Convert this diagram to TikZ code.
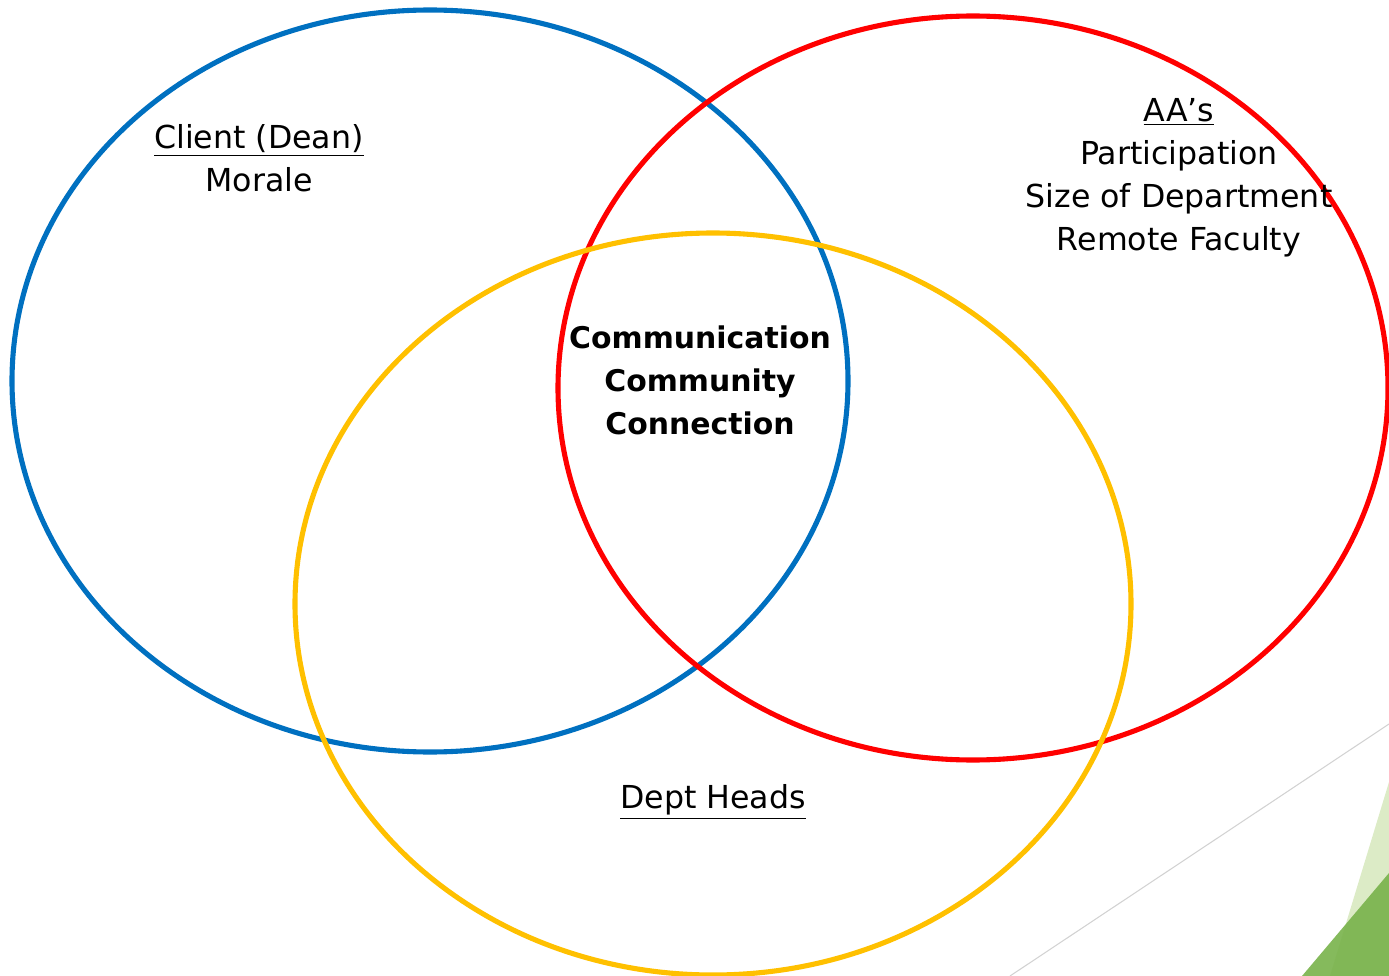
\documentclass[tikz,border=0pt]{standalone}
\usepackage{fontspec}
\setmainfont{DejaVu Sans}
\definecolor{vblue}{HTML}{0070C0}
\definecolor{vred}{HTML}{FF0000}
\definecolor{vyellow}{HTML}{FFC000}
\definecolor{lgreen}{HTML}{DCEBC6}
\definecolor{dgreen}{HTML}{78B24A}
\tikzset{
  ring/.style={line width=2.9pt},
  lbl/.style={align=center,inner sep=0pt,font=\fontsize{18}{24.5}\selectfont},
}
\begin{document}
\begin{tikzpicture}[x=0.02cm,y=-0.02cm]
\useasboundingbox (0,0) rectangle (1389,976);
\clip (0,0) rectangle (1389,976);
% corner decoration
\draw[gray!35,line width=0.6pt] (1389,724) -- (1010,976);
\fill[lgreen] (1389,782) -- (1330,976) -- (1389,976) -- cycle;
\fill[dgreen,opacity=0.9] (1302,976) -- (1389,873) -- (1389,976) -- cycle;
% circles
\draw[ring,vblue] (430,381) ellipse [x radius=418, y radius=371];
\draw[ring,vred] (973,388) ellipse [x radius=415, y radius=372];
\draw[ring,vyellow] (713,604) ellipse [x radius=418, y radius=371];
% labels
\node[lbl] (client) at (259,158) {\underline{Client (Dean)}\\ Morale};
\node[lbl] (aas) at (1179,178) {\underline{AA’s}\\ Participation\\ Size of Department\\ Remote Faculty};
\node[lbl,font=\bfseries\fontsize{17}{24.5}\selectfont] (core) at (700,380) {Communication\\ Community\\ Connection};
\node[lbl] (heads) at (713,802) {\underline{Dept Heads}};
\end{tikzpicture}
\end{document}
